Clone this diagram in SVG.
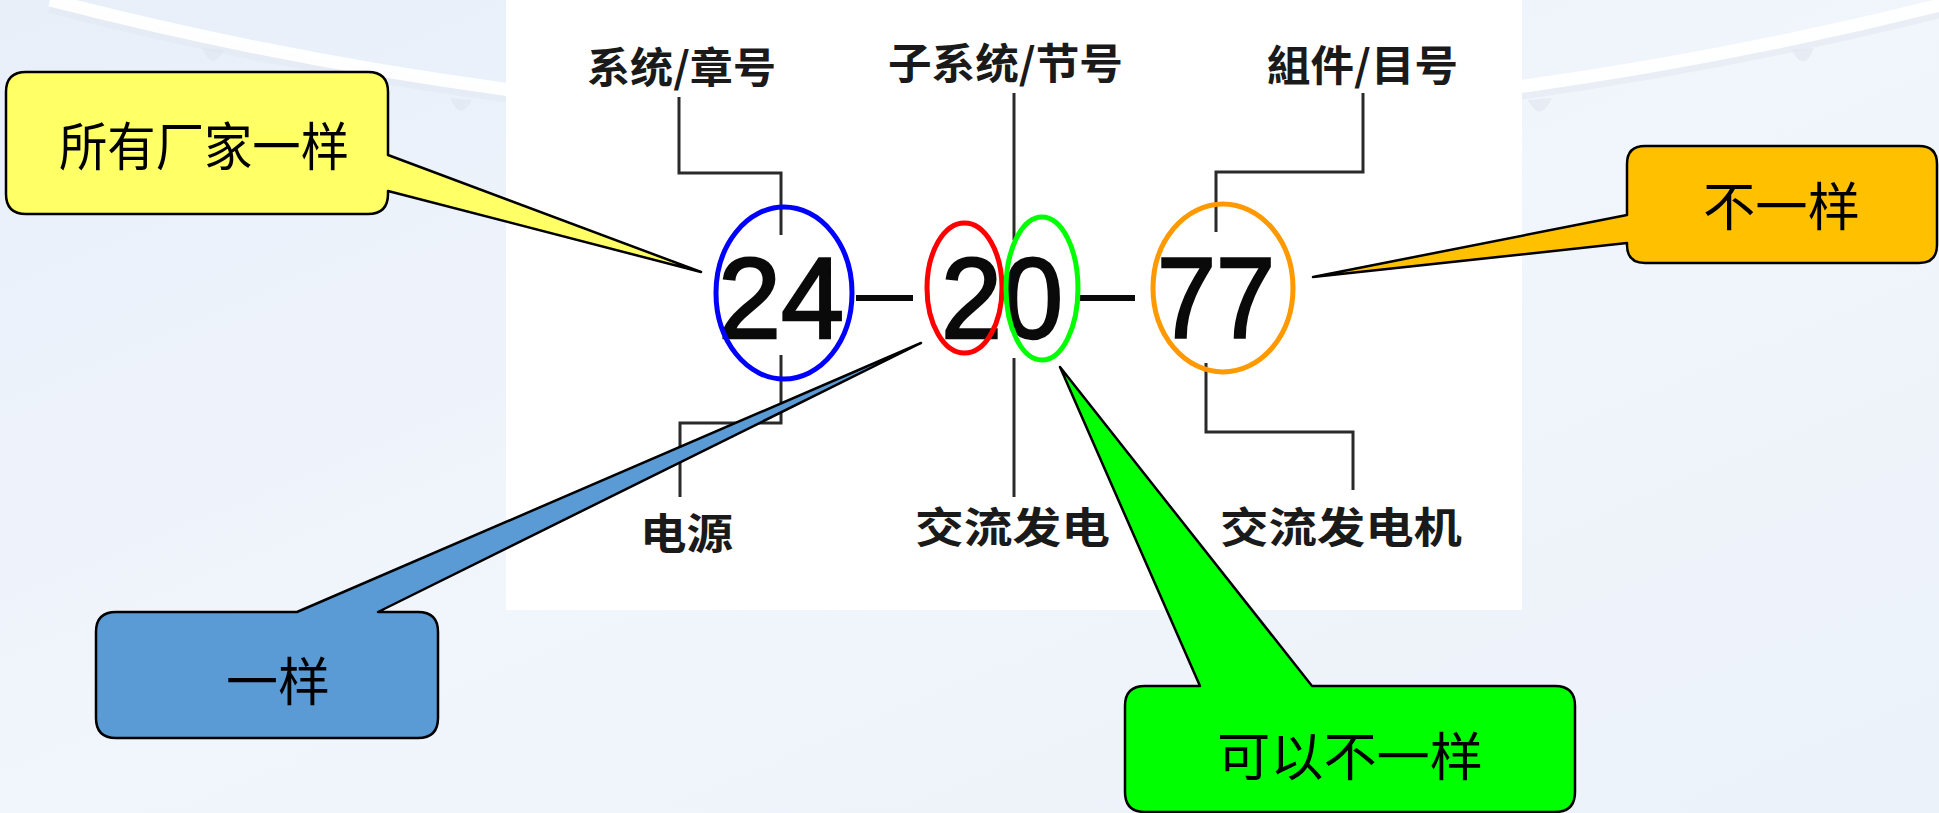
<svg xmlns="http://www.w3.org/2000/svg" width="1939" height="813" viewBox="0 0 1939 813">
<style>
.lbl{font-family:"Noto Sans CJK SC","Noto Sans CJK TC",sans-serif;font-weight:bold;font-size:42px;fill:#1a1a1a}
.num{font-family:"Liberation Sans",Arial,sans-serif;font-size:115px;fill:#0a0a0a;stroke:#0a0a0a;stroke-width:2.5}
.call{font-family:"Noto Sans CJK SC",sans-serif;font-size:52px;fill:#000}
.bub{stroke:#000;stroke-width:2.5;stroke-linejoin:round}
.con{fill:none;stroke:#2a2a2a;stroke-width:3}
.ring{fill:none;stroke-width:5}
.flap{fill:#DCE2EA;opacity:0.45}
</style>
<defs>
<linearGradient id="bg" x1="0" y1="0" x2="1" y2="1">
<stop offset="0" stop-color="#E8EFF9"/>
<stop offset="0.5" stop-color="#F1F5FC"/>
<stop offset="1" stop-color="#ECF2FA"/>
</linearGradient>
</defs>
<rect width="1939" height="813" fill="url(#bg)"/>
<g id="wing">
<path d="M50,6 Q1000,251 1960,6" fill="none" stroke="#E2E8F0" stroke-width="14" opacity="0.5"/>
<path d="M50,0 Q1000,245 1960,0" fill="none" stroke="#FFFFFF" stroke-width="13" opacity="0.95"/>
<path class="flap" d="M202,48 Q212,72 224,50 Z"/>
<path class="flap" d="M450,98 Q460,122 472,100 Z"/>
<path class="flap" d="M1528,100 Q1540,124 1552,98 Z"/>
<path class="flap" d="M1792,50 Q1804,74 1814,48 Z"/>
</g>
<rect id="panel" x="506" y="0" width="1016" height="610" fill="#FFFFFF"/>
<g id="connectors">
<path class="con" d="M679,97 V173 H781 V235"/>
<path class="con" d="M781,355 V423 H680 V497"/>
<path class="con" d="M1014,93 V240"/>
<path class="con" d="M1014,358 V497"/>
<path class="con" d="M1363,93 V172 H1216 V232"/>
<path class="con" d="M1206,363 V432 H1353 V490"/>
</g>
<g id="labels">
<text class="lbl" x="587" y="83" textLength="189" lengthAdjust="spacingAndGlyphs">系统/章号</text>
<text class="lbl" x="888" y="79" textLength="235" lengthAdjust="spacingAndGlyphs">子系统/节号</text>
<text class="lbl" x="1267" y="81" textLength="191" lengthAdjust="spacingAndGlyphs">組件/目号</text>
<text class="lbl" x="640" y="549" textLength="93" lengthAdjust="spacingAndGlyphs">电源</text>
<text class="lbl" x="915" y="543" textLength="195" lengthAdjust="spacingAndGlyphs">交流发电</text>
<text class="lbl" x="1220" y="543" textLength="242" lengthAdjust="spacingAndGlyphs">交流发电机</text>
</g>
<g id="code">
<text class="num" x="718" y="338" textLength="126" lengthAdjust="spacingAndGlyphs">24</text>
<rect x="856" y="295" width="57" height="6" fill="#0a0a0a"/>
<text class="num" x="941" y="338" textLength="122" lengthAdjust="spacingAndGlyphs">20</text>
<rect x="1080" y="295" width="55" height="6" fill="#0a0a0a"/>
<text class="num" x="1157" y="338" textLength="118" lengthAdjust="spacingAndGlyphs">77</text>
</g>
<g id="rings">
<ellipse class="ring" cx="784" cy="293" rx="68" ry="86" stroke="#0000FF"/>
<ellipse class="ring" cx="964.5" cy="288" rx="37.5" ry="65" stroke="#FF0000"/>
<ellipse class="ring" cx="1042" cy="288.5" rx="36" ry="71.5" stroke="#00FF00"/>
<ellipse class="ring" cx="1223" cy="288" rx="70" ry="84" stroke="#FF9900"/>
</g>
<g id="callout-yellow">
<path class="bub" fill="#FFFF66" d="M26,72 H368 Q388,72 388,92 V155 L701,272 L388,191 V194 Q388,214 368,214 H26 Q6,214 6,194 V92 Q6,72 26,72 Z"/>
<text class="call" x="59" y="166" font-size="48" textLength="290" lengthAdjust="spacingAndGlyphs">所有厂家一样</text>
</g>
<g id="callout-blue">
<path class="bub" fill="#5B9BD5" d="M116,612 H297 L921,343 L378,612 H418 Q438,612 438,632 V718 Q438,738 418,738 H116 Q96,738 96,718 V632 Q96,612 116,612 Z"/>
<text class="call" x="226" y="701" textLength="104" lengthAdjust="spacingAndGlyphs">一样</text>
</g>
<g id="callout-green">
<path class="bub" fill="#00FF00" d="M1145,686 H1200 L1060,367 L1312,686 H1555 Q1575,686 1575,706 V792 Q1575,812 1555,812 H1145 Q1125,812 1125,792 V706 Q1125,686 1145,686 Z"/>
<text class="call" x="1217" y="776" textLength="266" lengthAdjust="spacingAndGlyphs">可以不一样</text>
</g>
<g id="callout-orange">
<path class="bub" fill="#FFC000" d="M1645,146 H1919 Q1937,146 1937,164 V245 Q1937,263 1919,263 H1645 Q1627,263 1627,245 V243 L1313,277 L1627,215 V164 Q1627,146 1645,146 Z"/>
<text class="call" x="1703" y="226" textLength="157" lengthAdjust="spacingAndGlyphs">不一样</text>
</g>
</svg>
